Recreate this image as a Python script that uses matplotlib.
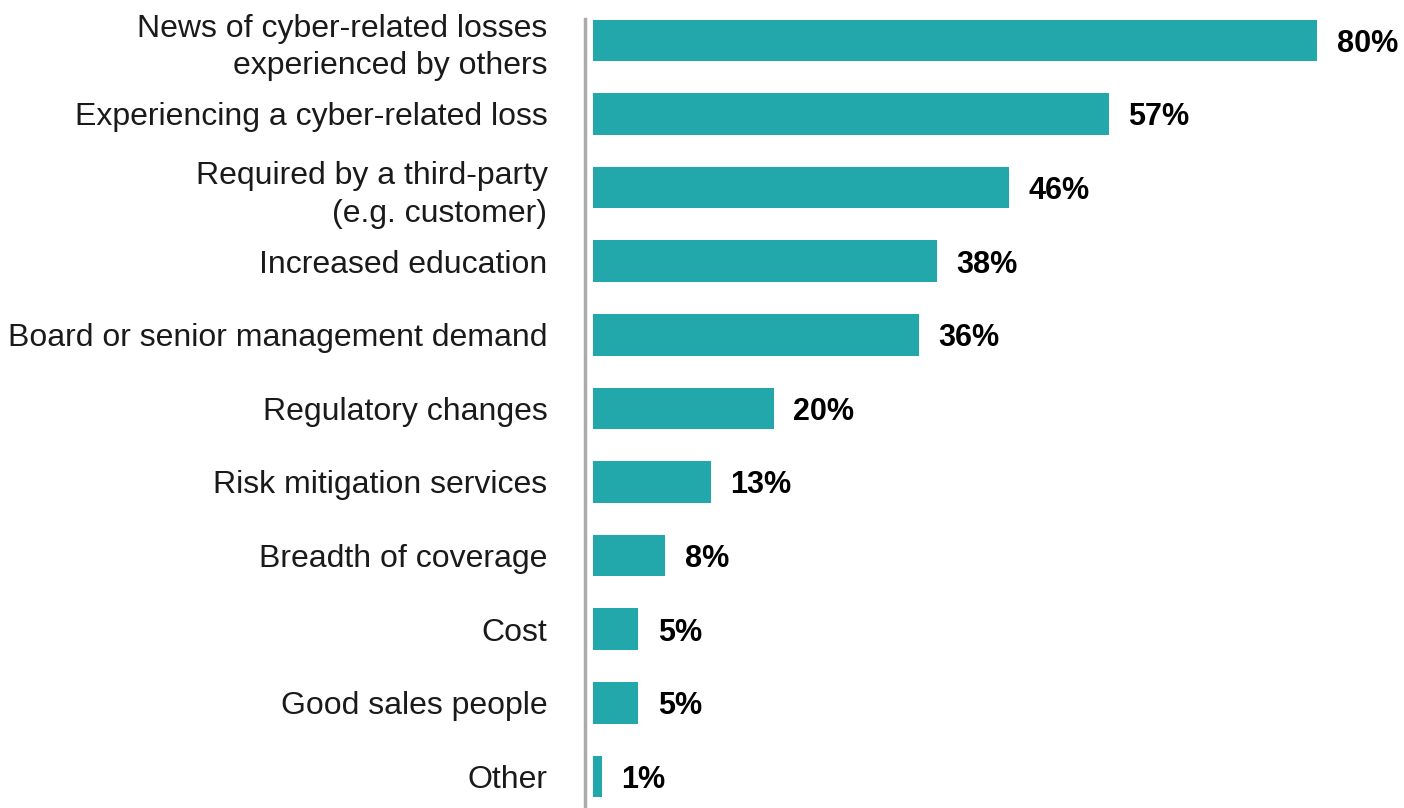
import matplotlib
matplotlib.use("Agg")
import matplotlib.pyplot as plt

categories = [
    "News of cyber-related losses\nexperienced by others",
    "Experiencing a cyber-related loss",
    "Required by a third-party\n(e.g. customer)",
    "Increased education",
    "Board or senior management demand",
    "Regulatory changes",
    "Risk mitigation services",
    "Breadth of coverage",
    "Cost",
    "Good sales people",
    "Other",
]
values = [80, 57, 46, 38, 36, 20, 13, 8, 5, 5, 1]

plt.rcParams["font.family"] = ["Liberation Sans", "DejaVu Sans"]

W, H, DPI = 1404, 808, 100
fig = plt.figure(figsize=(W / DPI, H / DPI), dpi=DPI)
ax = fig.add_axes([585 / W, 0, 1 - 585 / W, (808 - 19) / H])

bar_color = "#22A7AB"
ypos = list(range(len(categories)))
ax.barh(ypos, values, height=0.565, color=bar_color, edgecolor="none")

ax.set_xlim(-0.88, 89.6)
ax.set_ylim(10.43, -0.29)

for y, v in zip(ypos, values):
    ax.annotate(f"{v}%", xy=(v, y), xytext=(14, -2.5), textcoords="offset points",
                ha="left", va="center", fontsize=22, fontweight="bold", color="#000000")

ax.set_yticks(ypos)
ax.set_yticklabels(categories, fontsize=23, color="#1a1a1a", linespacing=1.33)
ax.tick_params(axis="y", length=0, pad=27)
ax.set_xticks([])

for s in ["top", "right", "bottom"]:
    ax.spines[s].set_visible(False)
ax.spines["left"].set_color("#ABABAB")
ax.spines["left"].set_linewidth(2.5)

fig.savefig("out.png", dpi=DPI)
